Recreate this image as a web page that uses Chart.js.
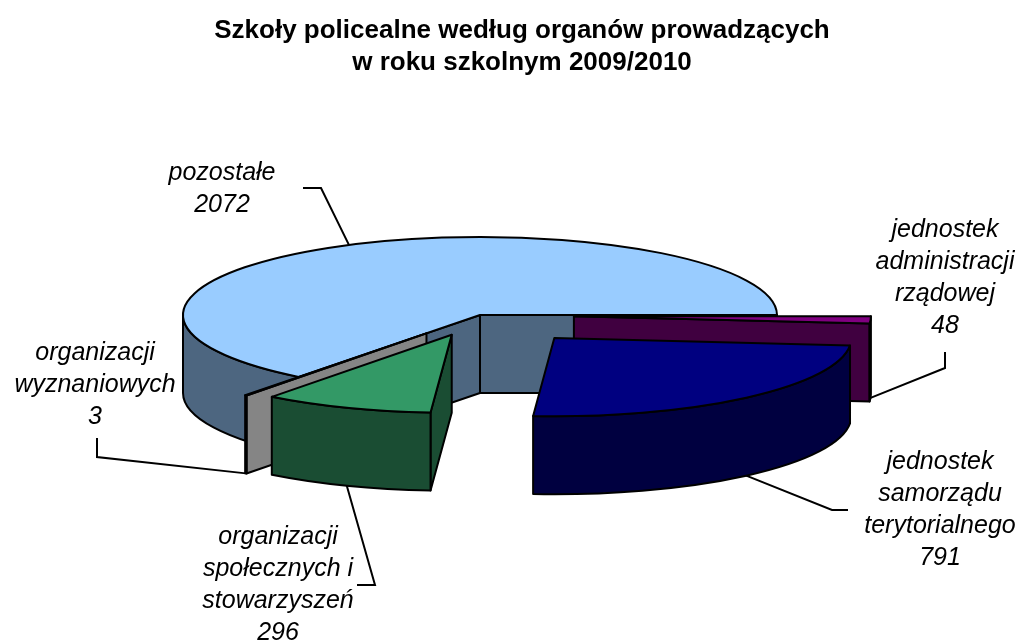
<!DOCTYPE html>
<html>
<head>
<meta charset="utf-8">
<title>Szkoły policealne według organów prowadzących</title>
<script src="https://cdn.jsdelivr.net/npm/chart.js"></script>
<style>
  body { margin: 0; background: #fff; }
  #wrap { width: 1019px; height: 642px; }
</style>
</head>
<body>
<div id="wrap"><canvas id="myChart"></canvas></div>
<script>
  // slices clockwise from 3 o'clock
  var categories = [
    ['jednostek', 'administracji', 'rządowej'],
    ['jednostek', 'samorządu', 'terytorialnego'],
    ['organizacji', 'społecznych i', 'stowarzyszeń'],
    ['organizacji', 'wyznaniowych'],
    ['pozostałe']
  ];
  var schools = [48, 791, 296, 3, 2072];
  var titleLines = ['Szkoły policealne według organów prowadzących', 'w roku szkolnym 2009/2010'];

  var topColors = ['#800080', '#000080', '#339966', '#C0C0C0', '#99CCFF'];
  var sideColors = ['#400040', '#000040', '#1A4D33', '#858585', '#4D6680'];
  var explode = [94, 115, 80, 88, 0];

  var TILT = 0.263;   // how flat the pie top looks
  var DEPTH = 78;     // height of the walls
  var LINE = 32;      // label line height

  // label blocks (centre x, first line y) and the elbow of each leader line
  var labelPos = [
    {x: 945, y: 230, elbow: [[945, 352], [945, 368]]},
    {x: 940, y: 462, elbow: [[848, 510], [832, 510]]},
    {x: 278, y: 537, elbow: [[357, 585], [375, 585]]},
    {x: 95,  y: 353, elbow: [[97, 438], [97, 457]]},
    {x: 222, y: 173, elbow: [[303, 188], [321, 188]]}
  ];

  function mid(arc) { return (arc.startAngle + arc.endAngle) / 2; }

  function apex(arc) {
    var m = mid(arc), o = arc.options.offset || 0;
    return [arc.x + o * Math.cos(m), arc.y + o * TILT * Math.sin(m)];
  }

  function shape(ctx) { ctx.fill(); ctx.stroke(); }

  function drawSlice(ctx, arc, i) {
    var p = apex(arc), ax = p[0], ay = p[1];
    var r = arc.outerRadius, ry = r * TILT;
    var s = arc.startAngle, e = arc.endAngle;
    ctx.fillStyle = sideColors[i];
    // cut faces that turn towards the viewer
    [[s, Math.cos(s) < 0], [e, Math.cos(e) > 0]].forEach(function (f) {
      if (!f[1]) return;
      var px = ax + r * Math.cos(f[0]), py = ay + ry * Math.sin(f[0]);
      ctx.beginPath();
      ctx.moveTo(ax, ay);
      ctx.lineTo(px, py);
      ctx.lineTo(px, py + DEPTH);
      ctx.lineTo(ax, ay + DEPTH);
      ctx.closePath();
      shape(ctx);
    });
    // outer wall, front half only
    [0, 2 * Math.PI].forEach(function (k) {
      var a0 = Math.max(s, k), a1 = Math.min(e, k + Math.PI);
      if (a1 <= a0) return;
      ctx.beginPath();
      ctx.ellipse(ax, ay, r, ry, 0, a0, a1);
      ctx.ellipse(ax, ay + DEPTH, r, ry, 0, a1, a0, true);
      ctx.closePath();
      shape(ctx);
    });
    // top
    ctx.fillStyle = arc.options.backgroundColor;
    ctx.beginPath();
    ctx.moveTo(ax, ay);
    ctx.ellipse(ax, ay, r, ry, 0, s, e);
    ctx.closePath();
    shape(ctx);
  }

  var pie3d = {
    id: 'pie3d',
    beforeDatasetsDraw: function (chart) {
      var ctx = chart.ctx;
      var arcs = chart.getDatasetMeta(0).data;
      // back slices first
      var order = arcs.map(function (a, i) { return i; }).sort(function (i, j) {
        return Math.sin(mid(arcs[i])) - Math.sin(mid(arcs[j]));
      });
      ctx.save();
      ctx.lineWidth = 2;
      ctx.strokeStyle = '#000';
      ctx.lineJoin = 'round';
      order.forEach(function (i) { drawSlice(ctx, arcs[i], i); });
      ctx.restore();
      return false;
    },
    afterDraw: function (chart) {
      var ctx = chart.ctx;
      var arcs = chart.getDatasetMeta(0).data;
      ctx.save();
      ctx.fillStyle = '#000';
      ctx.textAlign = 'center';
      ctx.textBaseline = 'middle';

      ctx.font = 'bold 26px "Liberation Sans", Arial, sans-serif';
      titleLines.forEach(function (t, j) { ctx.fillText(t, 522, 31 + j * 32); });

      ctx.font = 'italic 25px "Liberation Sans", Arial, sans-serif';
      ctx.strokeStyle = '#000';
      ctx.lineWidth = 2;
      arcs.forEach(function (arc, i) {
        var lp = labelPos[i];
        var lines = categories[i].concat(String(schools[i]));
        lines.forEach(function (t, j) { ctx.fillText(t, lp.x, lp.y + j * LINE); });

        // leader line to the rim at the middle of the slice
        var p = apex(arc), m = mid(arc), r = arc.outerRadius;
        var ex = p[0] + r * Math.cos(m);
        var ey = p[1] + r * TILT * Math.sin(m) + (Math.sin(m) > 0 ? DEPTH : 0);
        ctx.beginPath();
        ctx.moveTo(lp.elbow[0][0], lp.elbow[0][1]);
        ctx.lineTo(lp.elbow[1][0], lp.elbow[1][1]);
        ctx.lineTo(ex, ey);
        ctx.stroke();
      });
      ctx.restore();
    }
  };

  const ctx = document.getElementById('myChart').getContext('2d');
  const myChart = new Chart(ctx, {
    type: 'pie',
    data: {
      labels: categories.map(function (c) { return c.join(' '); }),
      datasets: [{
        data: schools,
        backgroundColor: topColors,
        offset: explode,
        borderWidth: 0
      }]
    },
    options: {
      responsive: true,
      maintainAspectRatio: false,
      animation: false,
      events: [],
      rotation: 90,
      radius: 297,
      layout: { padding: { left: 0, right: 59, top: 0, bottom: 12 } },
      plugins: {
        legend: { display: false },
        tooltip: { enabled: false },
        title: { display: false }
      }
    },
    plugins: [pie3d]
  });
</script>
</body>
</html>
